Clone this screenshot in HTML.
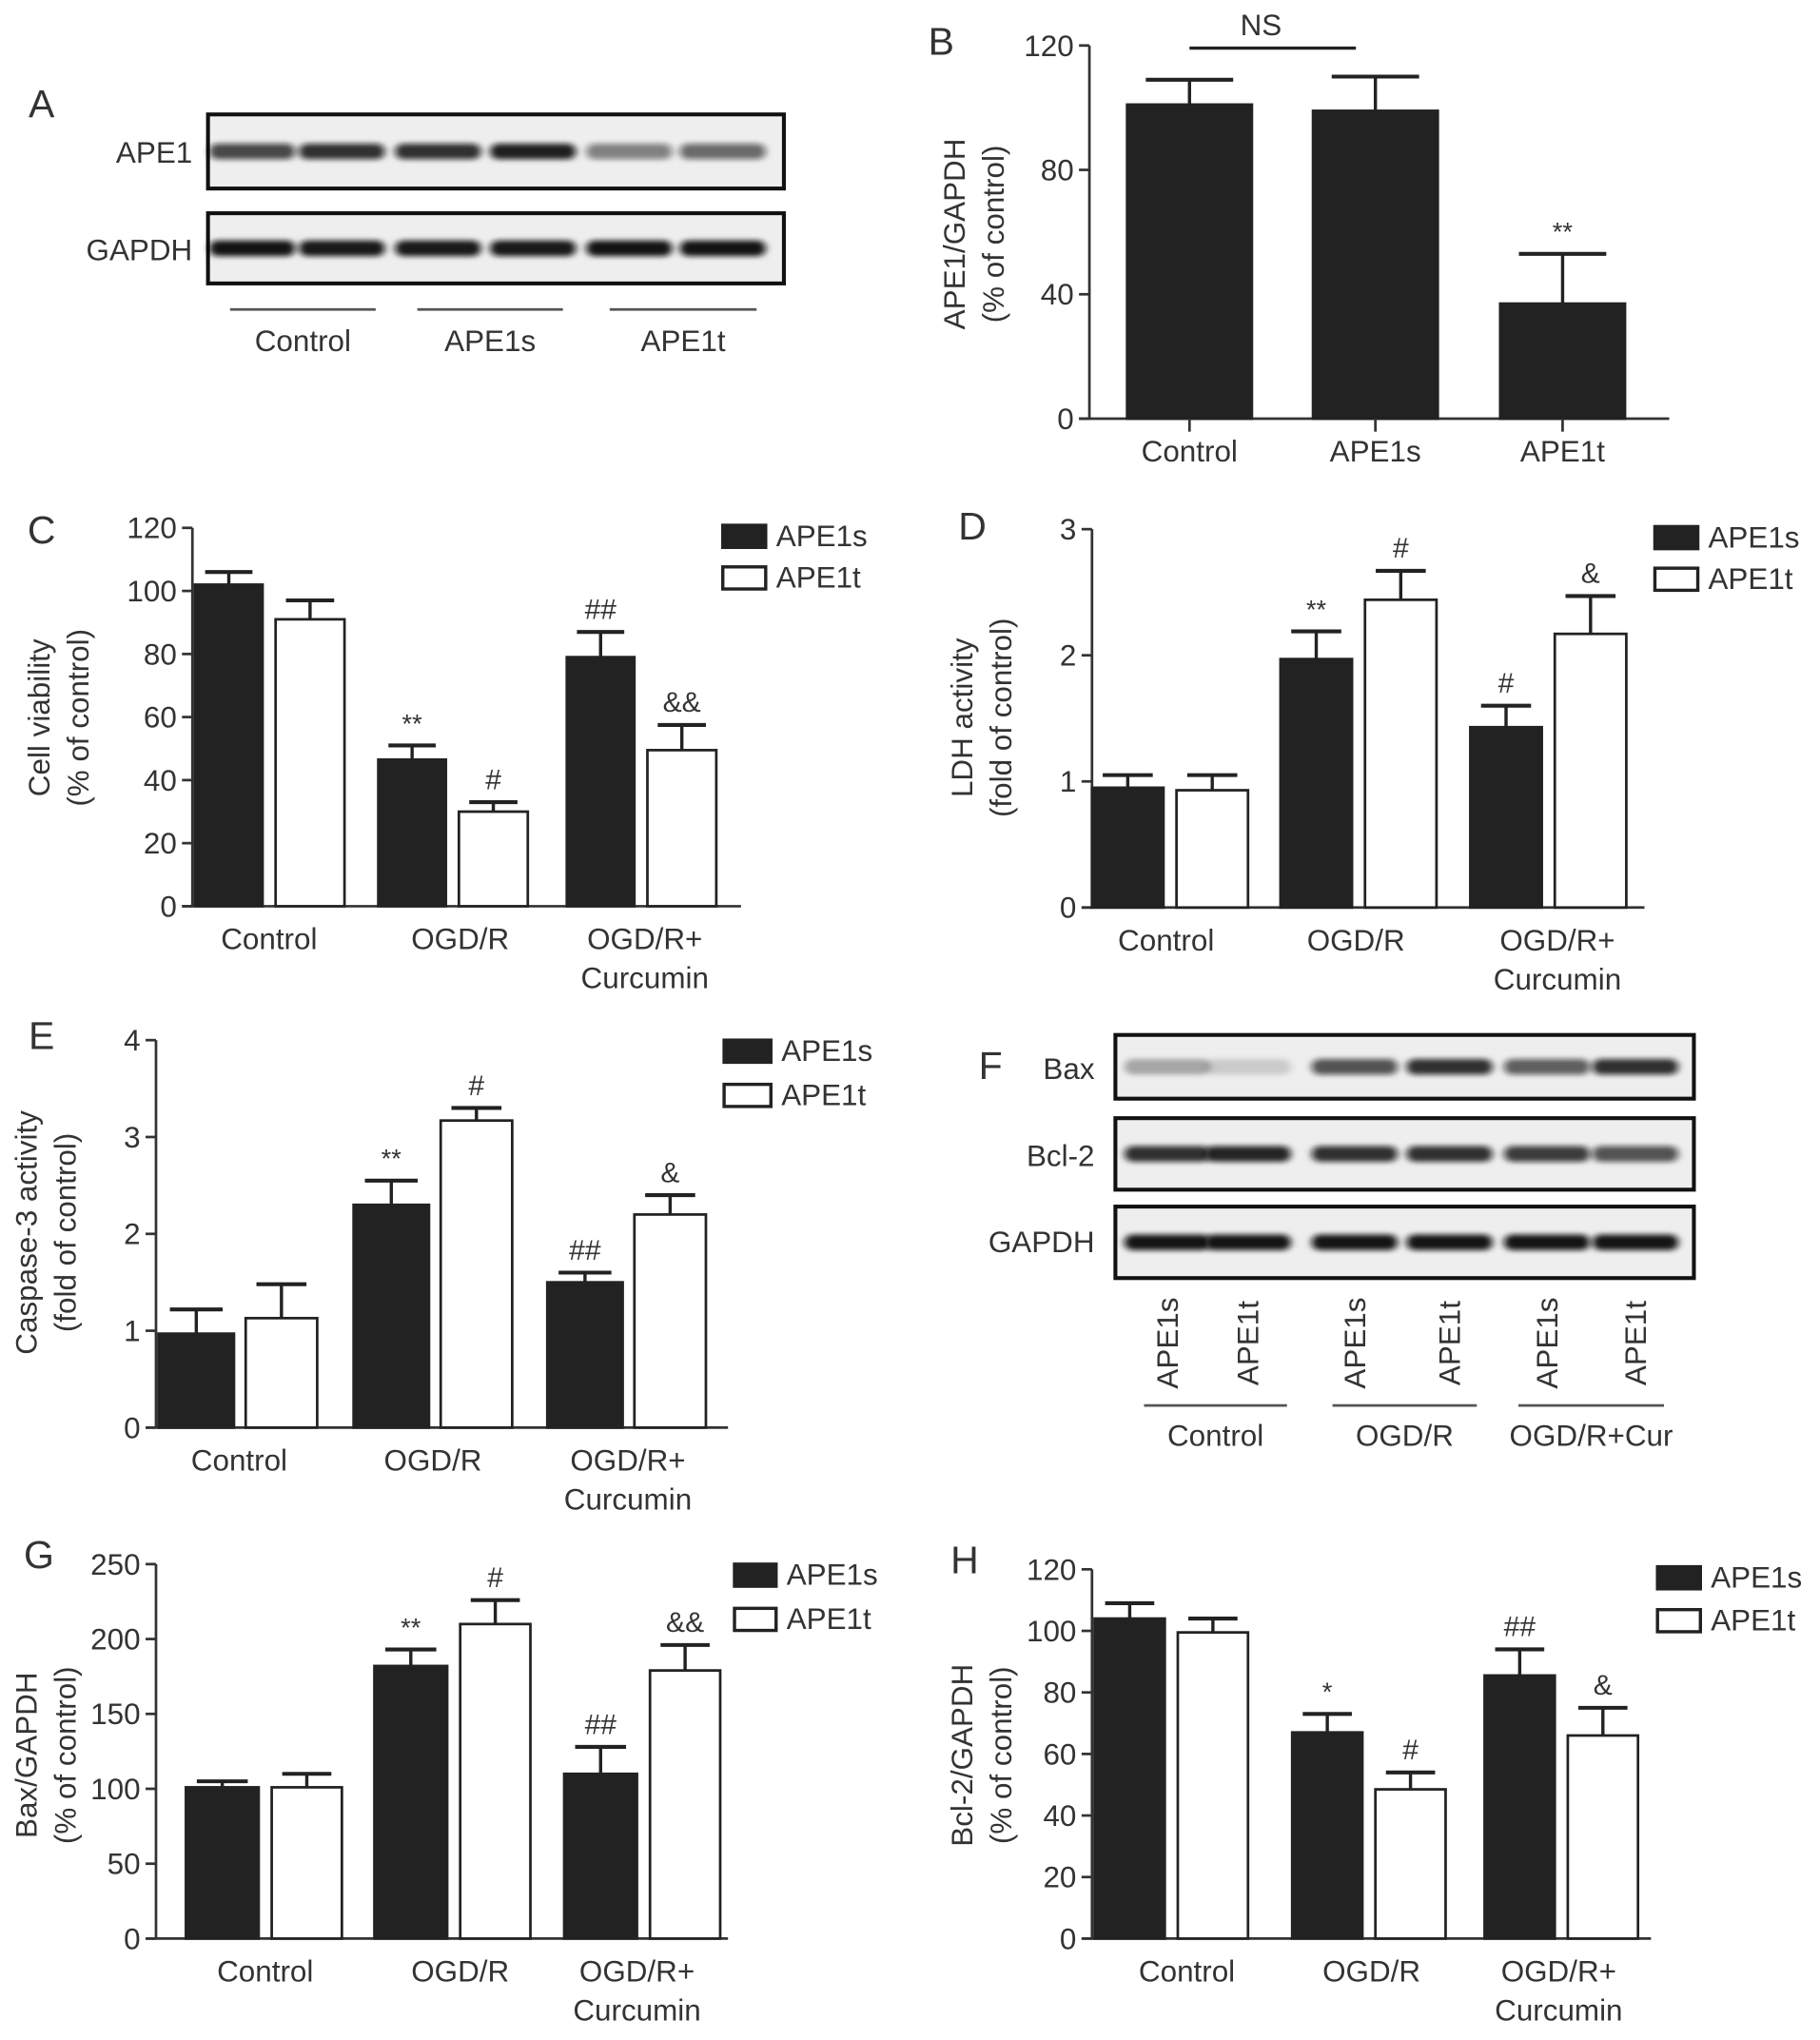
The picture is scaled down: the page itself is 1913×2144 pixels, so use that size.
<!DOCTYPE html>
<html><head><meta charset="utf-8"><style>
html,body{margin:0;padding:0;background:#fff;}
svg{display:block;font-family:"Liberation Sans",sans-serif;}
text{fill:#333;}
</style></head><body>
<svg id="fig" width="1913" height="2144" viewBox="0 0 1400 1569" preserveAspectRatio="none" xmlns="http://www.w3.org/2000/svg">
<defs><filter id="blur" x="-20%" y="-100%" width="140%" height="300%"><feGaussianBlur stdDeviation="3 2"/></filter></defs>
</svg>
<script>
// ---- Data ----
const catsB = ["Control","APE1s","APE1t"];
const valsB = [101,99,37];
const errB = [8,11,16];
const starsB = ["","","**"];

const catsC = ["Control","OGD/R","OGD/R+|Curcumin"];
const sC = [102,46.5,79];
const sCerr = [4,4.5,8];
const tC = [91,30,49.5];
const tCerr = [6,3,8];
const sCsig = ["","**","##"];
const tCsig = ["","#","&&"];
const ticksC = [0,20,40,60,80,100,120];

const catsD = ["Control","OGD/R","OGD/R+|Curcumin"];
const sD = [0.95,1.97,1.43];
const sDerr = [0.1,0.22,0.17];
const tD = [0.93,2.44,2.17];
const tDerr = [0.12,0.23,0.3];
const sDsig = ["","**","#"];
const tDsig = ["","#","&"];
const ticksD = [0,1,2,3];

const catsE = ["Control","OGD/R","OGD/R+|Curcumin"];
const sE = [0.97,2.3,1.5];
const sEerr = [0.25,0.25,0.1];
const tE = [1.13,3.17,2.2];
const tEerr = [0.35,0.13,0.2];
const sEsig = ["","**","##"];
const tEsig = ["","#","&"];
const ticksE = [0,1,2,3,4];

const catsG = ["Control","OGD/R","OGD/R+|Curcumin"];
const sG = [101,182,110];
const sGerr = [4,11,18];
const tG = [101,210,179];
const tGerr = [9,16,17];
const sGsig = ["","**","##"];
const tGsig = ["","#","&&"];
const ticksG = [0,50,100,150,200,250];

const catsH = ["Control","OGD/R","OGD/R+|Curcumin"];
const sH = [104,67,85.5];
const sHerr = [5,6,8.5];
const tH = [99.5,48.5,66];
const tHerr = [4.5,5.5,9];
const sHsig = ["","*","##"];
const tHsig = ["","#","&"];
const ticksH = [0,20,40,60,80,100,120];

const bandsA1 = [0.75,0.85,0.85,0.92,0.5,0.6];
const bandsA2 = [0.97,0.95,0.95,0.95,0.97,0.97];
const bandsF1 = [0.3,0.15,0.7,0.85,0.65,0.85];
const bandsF2 = [0.85,0.9,0.85,0.85,0.8,0.7];
const bandsF3 = [0.97,0.97,0.97,0.97,0.97,0.97];

// ---- Drawing ----
const svg = document.getElementById('fig');
const NS = "http://www.w3.org/2000/svg";
const FS = 23;
function el(tag, attrs, parent){
  const e = document.createElementNS(NS, tag);
  for (const k in attrs) e.setAttribute(k, attrs[k]);
  (parent||svg).appendChild(e);
  return e;
}
function txt(x,y,s,size,anchor,parent,name){
  const t = el('text',{x:x,y:y,'font-size':size,'text-anchor':anchor||'middle'},parent);
  t.textContent = s;
  
  
  return t;
}
function group(name){
  const g = el('g',{});
  
  
  return g;
}
function blot(g, x0,y0,x1,y1, lanes, bands, name){
  const b = el('rect',{x:x0,y:y0,width:x1-x0,height:y1-y0,fill:'#eeeeee',stroke:'#111','stroke-width':3},g);
  
  
  const cy=(y0+y1)/2;
  bands.forEach((o,i)=>{
    const e = el('rect',{x:lanes[i]-33,y:cy-6,width:66,height:12,rx:6,fill:'#111','fill-opacity':o,filter:'url(#blur)'},g);
    
    
  });
}
function letter(x,y,s){ txt(x,y,s,30,'middle',svg,'panel-letter-'+s.toLowerCase()); }

function yTitle(g,x,cy,l1,l2){
  const t1 = txt(0,0,l1,FS,'middle',g,'y-axis-title');
  t1.setAttribute('transform','translate('+x+','+cy+') rotate(-90)');
  const t2 = txt(0,0,l2,FS,'middle',g,'y-axis-title-units');
  t2.setAttribute('transform','translate('+(x+30)+','+cy+') rotate(-90)');
}

function chart(cfg){
  const g = group(cfg.name);
  const ys = v => cfg.y0 - (v - cfg.min)/(cfg.max-cfg.min)*(cfg.y0-cfg.y1);
  let a = el('line',{x1:cfg.ax,y1:cfg.y1,x2:cfg.ax,y2:cfg.y0,stroke:'#333','stroke-width':2},g);
   
  a = el('line',{x1:cfg.ax-8,y1:cfg.y0,x2:cfg.xEnd,y2:cfg.y0,stroke:'#333','stroke-width':2},g);
   
  cfg.ticks.forEach(t=>{
    const y=ys(t);
    const l = el('line',{x1:cfg.ax-8,y1:y,x2:cfg.ax,y2:y,stroke:'#333','stroke-width':2},g);
     
    txt(cfg.ax-12,y+8,String(t),FS,'end',g,'y-tick-label');
  });
  yTitle(g,cfg.tx,cfg.tcy,cfg.t1,cfg.t2);
  cfg.series.forEach(s=>{
    s.vals.forEach((v,i)=>{
      const x = cfg.gx[i] + s.off;
      const top = ys(v), eb = ys(v + s.err[i]);
      const ln = el('line',{x1:x+s.w/2,y1:top,x2:x+s.w/2,y2:eb,stroke:'#222','stroke-width':2.5},g);
       
      const cap = el('line',{x1:x+s.w/2-s.w*0.35,y1:eb,x2:x+s.w/2+s.w*0.35,y2:eb,stroke:'#222','stroke-width':3},g);
       
      const r = el('rect',{x:x,y:top,width:s.w,height:cfg.y0-top,fill:s.fill,stroke:'#222','stroke-width':2},g);
      
      
      if (s.sig && s.sig[i]) txt(x+s.w/2, eb-10, s.sig[i], s.sig[i].indexOf('*')>=0?20:22,'middle',g,'significance-mark');
    });
  });
  cfg.cats.forEach((c,i)=>{
    const cx = cfg.cx[i];
    if (cfg.xticks){
      const t = el('line',{x1:cx,y1:cfg.y0,x2:cx,y2:cfg.y0+10,stroke:'#333','stroke-width':2},g);
       
    }
    c.split('|').forEach((p,j)=> txt(cx, cfg.y0+33+j*30, p, FS,'middle',g,'x-category-label'));
  });
  if (cfg.legend){
    const L=cfg.legend;
    [['APE1s','#222'],['APE1t','#fff']].forEach((e,i)=>{
      const lg = el('g',{},g);
      
      
      el('rect',{x:L.x,y:L.y+i*L.dy,width:L.w,height:17,fill:e[1],stroke:'#222','stroke-width':2.5},lg);
      txt(L.x+L.w+8,L.y+i*L.dy+16,e[0],FS,'start',lg,'legend-label');
    });
  }
  return g;
}

// Panel A
letter(32,90,'A');
const gA = group('panel-a-western-blot');
const lanesA=[194,263,337,410,484,556];
blot(gA,160,88,603,145,lanesA,bandsA1,'ape1-blot');
blot(gA,160,164,603,218,lanesA,bandsA2,'gapdh-blot');
txt(148,125,'APE1',FS,'end',gA,'blot-label-ape1');
txt(148,200,'GAPDH',FS,'end',gA,'blot-label-gapdh');
[[177,289,'Control'],[321,433,'APE1s'],[469,582,'APE1t']].forEach(d=>{
  const l=el('line',{x1:d[0],y1:238,x2:d[1],y2:238,stroke:'#555','stroke-width':2},gA);
   
  txt((d[0]+d[1])/2,270,d[2],FS,'middle',gA,'group-label');
});

// Panel B
letter(724,42,'B');
const gB = chart({name:'panel-b-chart',ax:838,y0:322,y1:35,min:0,max:120,xEnd:1284,ticks:[0,40,80,120],
  tx:742,tcy:180,t1:'APE1/GAPDH',t2:'(% of control)',
  gx:[867,1010,1154],cx:[915,1058,1202],cats:catsB,xticks:true,
  series:[{key:'b',vals:valsB,err:errB,off:0,w:96,fill:'#222',sig:starsB}]});
const ns=el('line',{x1:915,y1:37,x2:1043,y2:37,stroke:'#222','stroke-width':2.5},gB);
 
txt(970,27,'NS',FS,'middle',gB,'ns-label');

// Panel C
letter(32,418,'C');
chart({name:'panel-c-cell-viability',ax:148,y0:697,y1:406,min:0,max:120,xEnd:570,ticks:ticksC,
  tx:38,tcy:552,t1:'Cell viability',t2:'(% of control)',
  gx:[150,291,436],cx:[207,354,496],cats:catsC,
  series:[{key:'ape1s',vals:sC,err:sCerr,off:0,w:52,fill:'#222',sig:sCsig},
          {key:'ape1t',vals:tC,err:tCerr,off:62,w:53,fill:'#fff',sig:tCsig}],
  legend:{x:556,y:404,dy:32,w:33}});

// Panel D
letter(748,415,'D');
chart({name:'panel-d-ldh-activity',ax:840,y0:698,y1:407,min:0,max:3,xEnd:1265,ticks:ticksD,
  tx:748,tcy:552,t1:'LDH activity',t2:'(fold of control)',
  gx:[840,985,1131],cx:[897,1043,1198],cats:catsD,
  series:[{key:'ape1s',vals:sD,err:sDerr,off:0,w:55,fill:'#222',sig:sDsig},
          {key:'ape1t',vals:tD,err:tDerr,off:65,w:55,fill:'#fff',sig:tDsig}],
  legend:{x:1273,y:405,dy:32,w:33}});

// Panel E
letter(32,807,'E');
chart({name:'panel-e-caspase3',ax:120,y0:1098,y1:800,min:0,max:4,xEnd:560,ticks:ticksE,
  tx:28,tcy:948,t1:'Caspase-3 activity',t2:'(fold of control)',
  gx:[122,272,421],cx:[184,333,483],cats:catsE,
  series:[{key:'ape1s',vals:sE,err:sEerr,off:0,w:58,fill:'#222',sig:sEsig},
          {key:'ape1t',vals:tE,err:tEerr,off:67,w:55,fill:'#fff',sig:tEsig}],
  legend:{x:557,y:800,dy:34,w:36}});

// Panel F
letter(762,830,'F');
const gF = group('panel-f-western-blot');
const lanesF=[898,960,1042,1115,1190,1258];
blot(gF,858,796,1303,845,lanesF,bandsF1,'bax-blot');
blot(gF,858,860,1303,915,lanesF,bandsF2,'bcl2-blot');
blot(gF,858,928,1303,983,lanesF,bandsF3,'gapdh-blot-f');
txt(842,830,'Bax',FS,'end',gF,'blot-label-bax');
txt(842,897,'Bcl-2',FS,'end',gF,'blot-label-bcl2');
txt(842,963,'GAPDH',FS,'end',gF,'blot-label-gapdh');
['APE1s','APE1t','APE1s','APE1t','APE1s','APE1t'].forEach((s,i)=>{
  const t=txt(0,0,s,FS,'middle',gF,'lane-label');
  t.setAttribute('transform','translate('+(lanesF[i]+8)+',1033) rotate(-90)');
});
[[880,990,'Control'],[1025,1136,'OGD/R'],[1168,1280,'OGD/R+Cur']].forEach(d=>{
  const l=el('line',{x1:d[0],y1:1081,x2:d[1],y2:1081,stroke:'#555','stroke-width':2},gF);
   
  txt((d[0]+d[1])/2,1112,d[2],FS,'middle',gF,'group-label');
});

// Panel G
letter(30,1206,'G');
chart({name:'panel-g-bax-gapdh',ax:120,y0:1491,y1:1203,min:0,max:250,xEnd:560,ticks:ticksG,
  tx:28,tcy:1350,t1:'Bax/GAPDH',t2:'(% of control)',
  gx:[143,288,434],cx:[204,354,490],cats:catsG,
  series:[{key:'ape1s',vals:sG,err:sGerr,off:0,w:56,fill:'#222',sig:sGsig},
          {key:'ape1t',vals:tG,err:tGerr,off:66,w:54,fill:'#fff',sig:tGsig}],
  legend:{x:565,y:1203,dy:34,w:32}});

// Panel H
letter(742,1210,'H');
chart({name:'panel-h-bcl2-gapdh',ax:840,y0:1491,y1:1207,min:0,max:120,xEnd:1270,ticks:ticksH,
  tx:748,tcy:1350,t1:'Bcl-2/GAPDH',t2:'(% of control)',
  gx:[842,994,1142],cx:[913,1055,1199],cats:catsH,
  series:[{key:'ape1s',vals:sH,err:sHerr,off:0,w:54,fill:'#222',sig:sHsig},
          {key:'ape1t',vals:tH,err:tHerr,off:64,w:54,fill:'#fff',sig:tHsig}],
  legend:{x:1275,y:1205,dy:33,w:33}});
</script>
</body></html>
